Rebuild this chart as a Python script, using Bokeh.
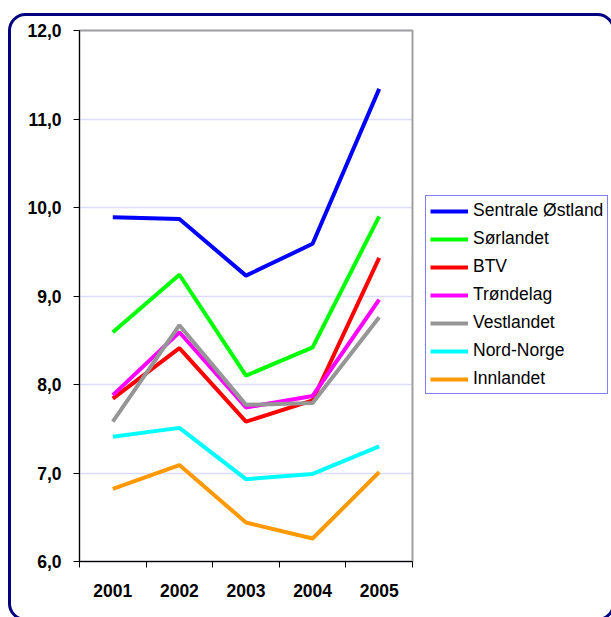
from bokeh.plotting import figure
from bokeh.models import (FixedTicker, Legend, LegendItem, BoxAnnotation,
                          LinearAxis, Grid, Range1d)
from bokeh.embed import file_html
from bokeh.resources import INLINE

years = ["2001", "2002", "2003", "2004", "2005"]
xpos = [1, 2, 3, 4, 5]
x_bounds = [0.5, 1.5, 2.5, 3.5, 4.5, 5.5]

series_names = ["Sentrale Østland", "Sørlandet", "BTV", "Trøndelag",
                "Vestlandet", "Nord-Norge", "Innlandet"]
sentrale_ostland = [9.89, 9.87, 9.23, 9.59, 11.34]
sorlandet = [8.59, 9.24, 8.10, 8.42, 9.90]
btv = [7.84, 8.41, 7.58, 7.82, 9.43]
trondelag = [7.88, 8.59, 7.74, 7.87, 8.96]
vestlandet = [7.58, 8.67, 7.77, 7.79, 8.76]
nord_norge = [7.41, 7.51, 6.93, 6.99, 7.30]
innlandet = [6.82, 7.09, 6.44, 6.26, 7.01]
series_colors = ["#0000FF", "#00FF00", "#FF0000", "#FF00FF",
                 "#969696", "#00FFFF", "#FF9900"]

y_ticks = [6, 7, 8, 9, 10, 11, 12]
y_labels = ["6,0", "7,0", "8,0", "9,0", "10,0", "11,0", "12,0"]

all_series = [sentrale_ostland, sorlandet, btv, trondelag,
              vestlandet, nord_norge, innlandet]

FONT = "Liberation Sans"

# ---- layout (pixels) ----
W, H = 611, 617
PLOT_L, PLOT_R, PLOT_T, PLOT_B = 79, 412, 30, 561
X0, X1 = x_bounds[0], x_bounds[-1]
Y0, Y1 = y_ticks[0], y_ticks[-1]
xs = (PLOT_R - PLOT_L) / (X1 - X0)
ys = (PLOT_B - PLOT_T) / (Y1 - Y0)
x_range = Range1d(X0 - PLOT_L / xs, X1 + (W - PLOT_R) / xs)
y_range = Range1d(Y0 - (H - PLOT_B) / ys, Y1 + PLOT_T / ys)

p = figure(width=W, height=H, output_backend="svg", toolbar_location=None,
           x_range=x_range, y_range=y_range,
           x_axis_type=None, y_axis_type=None, min_border=0)
p.min_border_left = p.min_border_right = 0
p.min_border_top = p.min_border_bottom = 0
p.background_fill_color = "white"
p.border_fill_color = "white"
p.outline_line_color = None

# rounded outer chart border
border = BoxAnnotation(left=9, right=613, top=14, bottom=619,
                       left_units="canvas", right_units="canvas",
                       top_units="canvas", bottom_units="canvas",
                       fill_alpha=0, fill_color=None,
                       line_color="#000080", line_alpha=1.0, line_width=3,
                       border_radius=16, level="overlay")
p.add_layout(border)

# horizontal grid lines inside plot area
grid = Grid(dimension=1, ticker=FixedTicker(ticks=y_ticks),
            grid_line_color="#DCDCFF", grid_line_width=1.5)
if "cross_bounds" in Grid.properties():
    grid.cross_bounds = (X0, X1)
p.add_layout(grid)

# plot-area frame (gray)
frame = BoxAnnotation(left=X0, right=X1, bottom=Y0, top=Y1,
                      fill_alpha=0, fill_color=None,
                      line_color="#A0A0A0", line_alpha=1.0, line_width=2,
                      level="underlay")
p.add_layout(frame)

# y axis
yaxis = LinearAxis(fixed_location=X0, bounds=(Y0, Y1),
                   ticker=FixedTicker(ticks=y_ticks, minor_ticks=[]))
yaxis.major_label_overrides = {t: l for t, l in zip(y_ticks, y_labels)}
yaxis.major_tick_out = 6
yaxis.major_tick_in = 0
yaxis.minor_tick_line_color = None
yaxis.axis_line_color = "black"
yaxis.major_tick_line_color = "black"
yaxis.major_label_text_font = FONT
yaxis.major_label_text_font_style = "bold"
yaxis.major_label_text_font_size = "17.5px"
yaxis.major_label_text_color = "black"
yaxis.major_label_standoff = 12
p.add_layout(yaxis, "left")

# x axis (ticks between categories)
xaxis = LinearAxis(fixed_location=Y0, bounds=(X0, X1),
                   ticker=FixedTicker(ticks=xpos, minor_ticks=x_bounds))
xaxis.major_label_overrides = {t: l for t, l in zip(xpos, years)}
xaxis.major_tick_out = 0
xaxis.major_tick_in = 0
xaxis.major_tick_line_color = None
xaxis.minor_tick_out = 6
xaxis.minor_tick_in = 0
xaxis.minor_tick_line_color = "black"
xaxis.axis_line_color = "black"
xaxis.major_label_text_font = FONT
xaxis.major_label_text_font_style = "bold"
xaxis.major_label_text_font_size = "17.5px"
xaxis.major_label_text_color = "black"
xaxis.major_label_standoff = 16
p.add_layout(xaxis, "below")

items = []
for name, vals, col in zip(series_names, all_series, series_colors):
    r = p.line(xpos, vals, line_color=col, line_width=4)
    items.append(LegendItem(label=name, renderers=[r]))

# legend box: left 425, bottom 394 (pixels)
legend = Legend(items=items, location=(425, H - 394))
legend.label_text_font = FONT
legend.label_text_font_size = "17.5px"
legend.label_text_color = "black"
legend.glyph_width = 38
legend.glyph_height = 20
legend.label_height = 20
legend.label_standoff = 5
legend.spacing = 7
legend.padding = 4
legend.margin = 0
legend.border_line_color = "#0000FF"
legend.border_line_width = 1
legend.background_fill_color = "white"
legend.background_fill_alpha = 1
p.add_layout(legend, "center")

open("out.html", "w").write(file_html(p, INLINE))
